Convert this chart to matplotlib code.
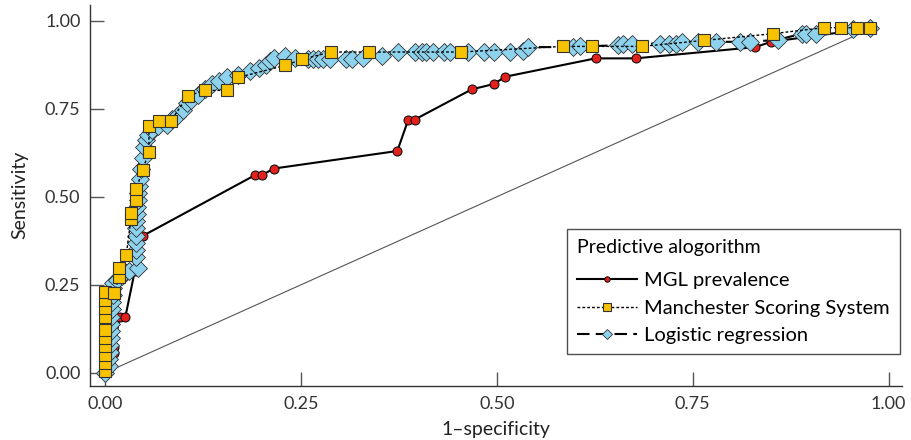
import matplotlib
matplotlib.use("Agg")
import matplotlib.pyplot as plt

plt.rcParams["font.family"] = ["Lato", "DejaVu Sans"]

# ---- data ----
mgl_x = [0.000, 0.008, 0.011, 0.011, 0.019, 0.026, 0.038, 0.049, 0.191, 0.200,
         0.215, 0.373, 0.387, 0.395, 0.468, 0.496, 0.511, 0.626, 0.677, 0.830,
         0.850, 0.976]
mgl_y = [0.000, 0.020, 0.056, 0.073, 0.160, 0.160, 0.290, 0.390, 0.561, 0.561,
         0.580, 0.630, 0.719, 0.719, 0.805, 0.820, 0.841, 0.893, 0.893, 0.925,
         0.940, 0.978]

msc_x = [0.000, 0.000, 0.000, 0.000, 0.000, 0.000, 0.000, 0.000, 0.000, 0.000,
         0.012, 0.018, 0.018, 0.027, 0.033, 0.033, 0.040, 0.040, 0.048, 0.056,
         0.056, 0.069, 0.084, 0.106, 0.128, 0.156, 0.170, 0.230, 0.251, 0.288,
         0.337, 0.454, 0.584, 0.621, 0.685, 0.765, 0.852, 0.917, 0.939, 0.960,
         0.976]
msc_y = [0.004, 0.028, 0.051, 0.075, 0.099, 0.122, 0.160, 0.183, 0.207, 0.230,
         0.228, 0.273, 0.297, 0.334, 0.438, 0.455, 0.490, 0.523, 0.577, 0.627,
         0.700, 0.716, 0.716, 0.787, 0.802, 0.802, 0.839, 0.873, 0.890, 0.911,
         0.911, 0.911, 0.927, 0.927, 0.927, 0.944, 0.963, 0.980, 0.980, 0.980,
         0.980]

lr_x = [0.000, 0.005, 0.005, 0.006, 0.006, 0.007, 0.007, 0.008, 0.008, 0.009,
        0.009, 0.010, 0.010, 0.010, 0.015, 0.021, 0.026, 0.030, 0.042, 0.040,
        0.040, 0.040, 0.040, 0.040, 0.040, 0.041, 0.041, 0.042, 0.042, 0.043,
        0.044, 0.046, 0.048, 0.050, 0.052, 0.055, 0.060, 0.068, 0.079, 0.085,
        0.092, 0.100, 0.104, 0.110, 0.119, 0.127, 0.136, 0.145, 0.155, 0.170,
        0.185, 0.196, 0.206, 0.210, 0.215, 0.230, 0.242, 0.259, 0.266, 0.272,
        0.278, 0.287, 0.308, 0.315, 0.329, 0.353, 0.374, 0.395, 0.404, 0.410,
        0.419, 0.432, 0.440, 0.463, 0.483, 0.497, 0.517, 0.534, 0.540, 0.597,
        0.606, 0.655, 0.661, 0.672, 0.708, 0.720, 0.729, 0.736, 0.757, 0.780,
        0.810, 0.823, 0.859, 0.889, 0.895, 0.908, 0.954, 0.976]
lr_y = [0.000, 0.020, 0.040, 0.060, 0.080, 0.100, 0.120, 0.140, 0.160, 0.180,
        0.200, 0.220, 0.240, 0.255, 0.265, 0.275, 0.285, 0.290, 0.297, 0.330,
        0.350, 0.370, 0.390, 0.410, 0.430, 0.450, 0.470, 0.490, 0.510, 0.530,
        0.550, 0.580, 0.610, 0.640, 0.660, 0.675, 0.690, 0.700, 0.705, 0.720,
        0.730, 0.745, 0.765, 0.775, 0.790, 0.805, 0.820, 0.830, 0.840, 0.845,
        0.856, 0.865, 0.875, 0.885, 0.895, 0.900, 0.895, 0.890, 0.890, 0.890,
        0.890, 0.890, 0.890, 0.890, 0.895, 0.900, 0.910, 0.910, 0.910, 0.910,
        0.910, 0.910, 0.910, 0.910, 0.910, 0.910, 0.910, 0.915, 0.925, 0.925,
        0.927, 0.930, 0.935, 0.935, 0.935, 0.935, 0.935, 0.940, 0.940, 0.940,
        0.940, 0.940, 0.946, 0.963, 0.963, 0.963, 0.975, 0.980]

ref_x = [0.0, 0.976]
ref_y = [0.0, 0.976]

ticks = [0.00, 0.25, 0.50, 0.75, 1.00]
tick_labels = ["0.00", "0.25", "0.50", "0.75", "1.00"]

# ---- figure ----
fig = plt.figure(figsize=(9.11, 4.40), dpi=100)
ax = fig.add_axes([0.099, 0.123, 0.891, 0.866])

ax.plot(ref_x, ref_y, color="#555555", linewidth=0.8, zorder=1)

ax.plot(mgl_x, mgl_y, color="black", linewidth=1.5, linestyle="-",
        marker="o", markersize=6.5, markerfacecolor="#e3211c",
        markeredgecolor="black", markeredgewidth=0.7,
        label="MGL prevalence", zorder=2)
ax.plot(lr_x, lr_y, color="black", linewidth=1.5, linestyle=(0, (6, 3)),
        marker="D", markersize=8.8, markerfacecolor="#8dd3ee",
        markeredgecolor="#333333", markeredgewidth=0.6,
        label="Logistic regression", zorder=3)
ax.plot(msc_x, msc_y, color="black", linewidth=1.0, linestyle=(0, (2, 1.5)),
        marker="s", markersize=9, markerfacecolor="#f7c200",
        markeredgecolor="#333333", markeredgewidth=0.8,
        label="Manchester Scoring System", zorder=4)

ax.set_xlim(-0.019, 1.017)
ax.set_ylim(-0.037, 1.045)
ax.set_xticks(ticks)
ax.set_xticklabels(tick_labels)
ax.set_yticks(ticks)
ax.set_yticklabels(tick_labels)

for side in ["top", "right"]:
    ax.spines[side].set_visible(False)
for side in ["left", "bottom"]:
    ax.spines[side].set_color("#333333")
    ax.spines[side].set_linewidth(1.0)

ax.tick_params(direction="in", length=10, width=1, color="#555555",
               labelsize=13, labelcolor="#333333", pad=7)
ax.set_xlabel("1\u2013specificity", fontsize=14, color="#222222", labelpad=7)
ax.set_ylabel("Sensitivity", fontsize=14, color="#222222", labelpad=12)

handles, labels = ax.get_legend_handles_labels()
order = [0, 2, 1]
leg = ax.legend([handles[i] for i in order], [labels[i] for i in order],
                title="Predictive alogorithm", loc="lower right",
                bbox_to_anchor=(0.9975, 0.084), borderaxespad=0,
                fontsize=14.5, title_fontsize=14,
                frameon=True, fancybox=False, edgecolor="#222222",
                handlelength=3.0, markerscale=0.6, borderpad=0.5,
                labelspacing=0.5, handletextpad=0.35, alignment="left")
leg.get_frame().set_linewidth(1.0)
# a bit more room under the legend title, as in the original
leg._legend_box.sep = 12

fig.savefig("out.png", dpi=100)
